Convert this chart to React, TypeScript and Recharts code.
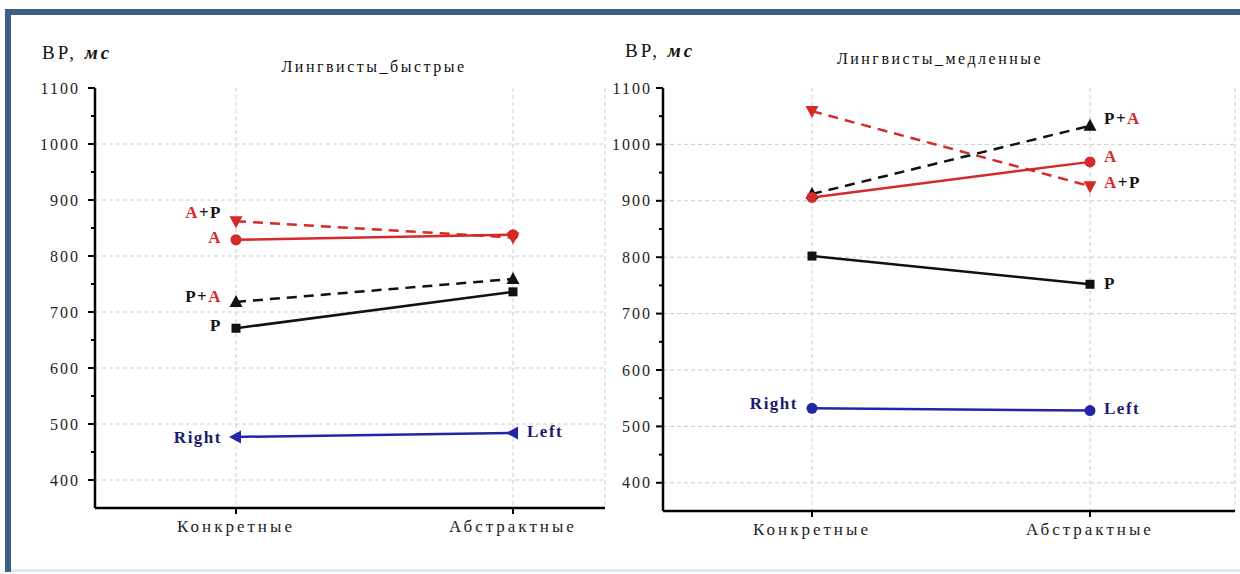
import React from 'react';
import { LineChart, Line, XAxis, YAxis, CartesianGrid, ReferenceLine } from 'recharts';

const categories = ['Конкретные', 'Абстрактные'];

// Лингвисты_быстрые
const fastAP = [862, 833];
const fastA = [829, 838];
const fastPA = [718, 759];
const fastP = [671, 736];
const fastRL = [477, 484];

// Лингвисты_медленные
const slowAP = [1059, 926];
const slowA = [906, 969];
const slowPA = [912, 1033];
const slowP = [802, 752];
const slowRL = [532, 528];

const yTicks = [400, 450, 500, 550, 600, 650, 700, 750, 800, 850, 900, 950, 1000, 1050, 1100];
const gridValues = [400, 500, 600, 700, 800, 900, 1000];

const RED = '#d42a2a';
const BLACK = '#111111';
const BLUE = '#2424a8';
const NAVY = '#1c1c6e';
const SERIF = '"Liberation Serif", "DejaVu Serif", serif';

type Shape = 'square' | 'triUp' | 'triDown' | 'triLeft' | 'circle';

interface SeriesCfg {
  key: string;
  values: number[];
  color: string;
  dashed: boolean;
  shape: Shape;
  labels: (string | null)[];
  sides: ('left' | 'right')[];
  dys: number[];
  labelColor?: string;
}

const Marker = ({ cx, cy, shape, color }: { cx: number; cy: number; shape: Shape; color: string }) => {
  if (cx == null || cy == null) return null;
  if (shape === 'square') return <rect x={cx - 4.5} y={cy - 4.5} width={9} height={9} fill={color} />;
  if (shape === 'circle') return <circle cx={cx} cy={cy} r={5.5} fill={color} />;
  if (shape === 'triUp') return <path d={`M${cx},${cy - 7} L${cx + 6.5},${cy + 5} L${cx - 6.5},${cy + 5} Z`} fill={color} />;
  if (shape === 'triDown') return <path d={`M${cx},${cy + 7} L${cx + 6.5},${cy - 5} L${cx - 6.5},${cy - 5} Z`} fill={color} />;
  return <path d={`M${cx - 7},${cy} L${cx + 5},${cy - 6.5} L${cx + 5},${cy + 6.5} Z`} fill={color} />;
};

const PointLabel = ({ cx, cy, text, side, dy, color }: { cx: number; cy: number; text: string; side: 'left' | 'right'; dy: number; color?: string }) => {
  const x = side === 'left' ? cx - 14 : cx + 14;
  return (
    <text x={x} y={cy + dy} dy="0.35em" textAnchor={side === 'left' ? 'end' : 'start'} fontFamily={SERIF} fontWeight="bold" fontSize={17} letterSpacing={1.5}>
      {text.split('').map((ch, i) => (
        <tspan key={i} fill={color ?? (ch === 'A' ? RED : BLACK)}>{ch}</tspan>
      ))}
    </text>
  );
};

const makeYTick = (gap: number) => (props: any) => {
  const { x, y, payload } = props;
  const major = payload.value % 100 === 0;
  return (
    <g>
      <line x1={x} x2={x - (major ? 7 : 4)} y1={y} y2={y} stroke="#000" strokeWidth={2} />
      {major && (
        <text x={x - gap} y={y} dy="0.35em" textAnchor="end" fontFamily={SERIF} fontSize={16} letterSpacing={2} fill="#222">
          {payload.value}
        </text>
      )}
    </g>
  );
};

interface PanelProps {
  series: SeriesCfg[];
  left: number;
  width: number;
  yAxisWidth: number;
  xAxisHeight: number;
  padL: number;
  padR: number;
  marginRight: number;
  tickGap: number;
}

const Panel = ({ series, left, width, yAxisWidth, xAxisHeight, padL, padR, marginRight, tickGap }: PanelProps) => {
  const data = categories.map((c, i) => {
    const row: Record<string, string | number> = { cat: c };
    series.forEach((s) => (row[s.key] = s.values[i]));
    return row;
  });
  const YTick = makeYTick(tickGap);
  return (
    <div style={{ position: 'absolute', left, top: 0 }}>
      <LineChart width={width} height={574} data={data} margin={{ top: 88, right: marginRight, left: 0, bottom: 0 }}>
        <CartesianGrid horizontal={false} stroke="#cbcbcb" strokeDasharray="4 3" />
        {gridValues.map((v) => (
          <ReferenceLine key={v} y={v} stroke="#cbcbcb" strokeDasharray="4 3" />
        ))}
        <XAxis
          dataKey="cat"
          height={xAxisHeight}
          padding={{ left: padL, right: padR }}
          axisLine={{ stroke: '#000', strokeWidth: 2.5 }}
          tickLine={{ stroke: '#000', strokeWidth: 2 }}
          tick={{ fontFamily: SERIF, fontSize: 17, fill: '#222', letterSpacing: 3 }}
          tickSize={6}
          tickMargin={6}
        />
        <YAxis
          width={yAxisWidth}
          domain={[350, 1100]}
          ticks={yTicks}
          interval={0}
          tickSize={0}
          tickMargin={0}
          tickLine={false}
          tick={<YTick />}
          axisLine={{ stroke: '#000', strokeWidth: 2.5 }}
        />
        {series.map((s) => (
          <Line
            key={s.key}
            dataKey={s.key}
            type="linear"
            stroke={s.color}
            strokeWidth={2.5}
            strokeDasharray={s.dashed ? '10 7' : undefined}
            isAnimationActive={false}
            dot={(p: any) => (
              <g key={`${s.key}-${p.index}`}>
                <Marker cx={p.cx} cy={p.cy} shape={s.shape} color={s.color} />
                {s.labels[p.index] && (
                  <PointLabel cx={p.cx} cy={p.cy} text={s.labels[p.index] as string} side={s.sides[p.index]} dy={s.dys[p.index]} color={s.labelColor} />
                )}
              </g>
            )}
            activeDot={false}
          />
        ))}
      </LineChart>
    </div>
  );
};

const fastSeries: SeriesCfg[] = [
  { key: 'rl', values: fastRL, color: BLUE, dashed: false, shape: 'triLeft', labels: ['Right', 'Left'], sides: ['left', 'right'], dys: [0, -2], labelColor: NAVY },
  { key: 'p', values: fastP, color: BLACK, dashed: false, shape: 'square', labels: ['P', null], sides: ['left', 'left'], dys: [-3, 0] },
  { key: 'pa', values: fastPA, color: BLACK, dashed: true, shape: 'triUp', labels: ['P+A', null], sides: ['left', 'left'], dys: [-6, 0] },
  { key: 'ap', values: fastAP, color: RED, dashed: true, shape: 'triDown', labels: ['A+P', null], sides: ['left', 'left'], dys: [-9, 0] },
  { key: 'a', values: fastA, color: RED, dashed: false, shape: 'circle', labels: ['A', null], sides: ['left', 'left'], dys: [-3, 0] },
];

const slowSeries: SeriesCfg[] = [
  { key: 'rl', values: slowRL, color: BLUE, dashed: false, shape: 'circle', labels: ['Right', 'Left'], sides: ['left', 'right'], dys: [-5, -3], labelColor: NAVY },
  { key: 'p', values: slowP, color: BLACK, dashed: false, shape: 'square', labels: [null, 'P'], sides: ['right', 'right'], dys: [0, -1] },
  { key: 'pa', values: slowPA, color: BLACK, dashed: true, shape: 'triUp', labels: [null, 'P+A'], sides: ['right', 'right'], dys: [0, -8] },
  { key: 'ap', values: slowAP, color: RED, dashed: true, shape: 'triDown', labels: [null, 'A+P'], sides: ['right', 'right'], dys: [0, -4] },
  { key: 'a', values: slowA, color: RED, dashed: false, shape: 'circle', labels: [null, 'A'], sides: ['right', 'right'], dys: [0, -6] },
];

const AxisTitle = ({ left, top }: { left: number; top: number }) => (
  <div style={{ position: 'absolute', left, top, fontFamily: SERIF, fontSize: 19, letterSpacing: 3, color: '#111', whiteSpace: 'nowrap' }}>
    BP, <b><i>мс</i></b>
  </div>
);

const Title = ({ cx, top, text }: { cx: number; top: number; text: string }) => (
  <div style={{ position: 'absolute', left: cx - 150, width: 300, top, textAlign: 'center', fontFamily: SERIF, fontSize: 16, letterSpacing: 2.5, color: '#111' }}>
    {text}
  </div>
);

export default function App() {
  return (
    <div style={{ position: 'absolute', left: 0, top: 0, width: 1240, height: 574, background: '#fff', overflow: 'hidden' }}>
      <div style={{ position: 'absolute', left: 5, top: 9, width: 1235, height: 6, background: '#3d5f87' }} />
      <div style={{ position: 'absolute', left: 5, top: 9, width: 6, height: 563, background: '#3d5f87' }} />
      <div style={{ position: 'absolute', left: 11, top: 569, width: 1229, height: 3, background: '#d6eaf5' }} />
      <AxisTitle left={42} top={42} />
      <AxisTitle left={625} top={40} />
      <Title cx={374} top={58} text="Лингвисты_быстрые" />
      <Title cx={940} top={50} text="Лингвисты_медленные" />
      <Panel series={fastSeries} left={0} width={615} yAxisWidth={95} xAxisHeight={66} padL={141} padR={92} marginRight={10} tickGap={15} />
      <Panel series={slowSeries} left={560} width={680} yAxisWidth={103} xAxisHeight={63} padL={149} padR={145} marginRight={5} tickGap={11} />
    </div>
  );
}
